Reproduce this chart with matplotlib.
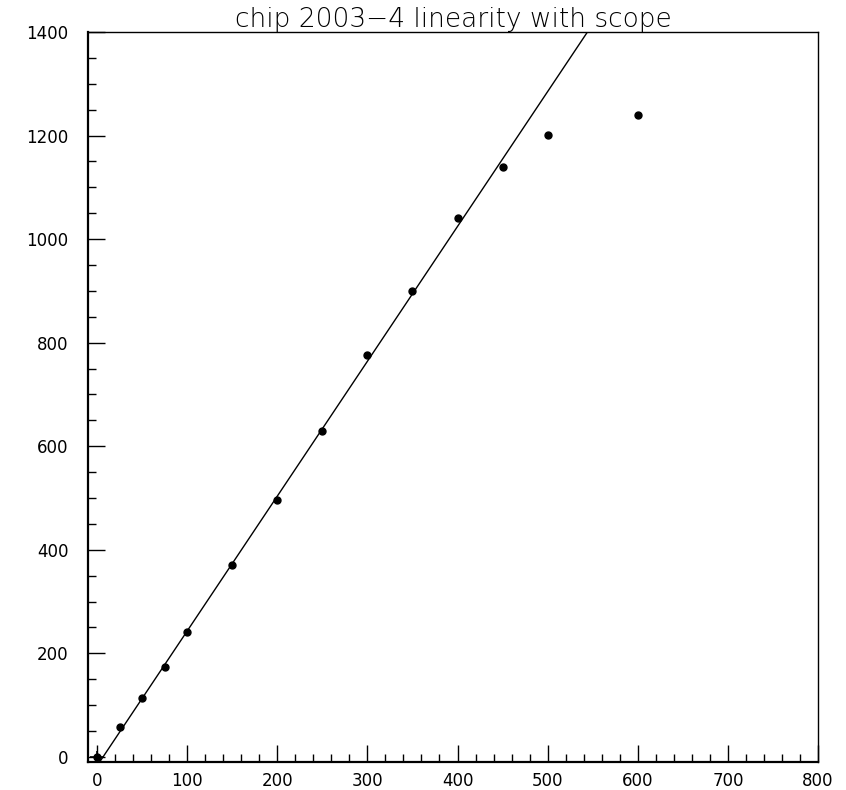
import matplotlib
matplotlib.use("Agg")
import matplotlib.pyplot as plt
import numpy as np
from matplotlib.ticker import MultipleLocator

# Data
x_vals = [0, 25, 50, 75, 100, 150, 200, 250, 300, 350, 400, 450, 500, 600]
y_vals = [0, 58, 114, 173, 241, 370, 496, 629, 776, 899, 1040, 1140, 1201, 1240]
x_err = [8, 0, 0, 0, 0, 0, 0, 0, 0, 0, 0, 0, 0, 0]
y_err = [12, 0, 0, 0, 0, 0, 0, 0, 0, 0, 0, 0, 0, 0]
fit_slope = 2.605
fit_intercept = -17.6
title = "chip 2003\u22124 linearity with scope"

fig = plt.figure(figsize=(8.46, 7.90), dpi=100)
ax = fig.add_axes([88/846, 1 - 762/790, (818-88)/846, (762-32)/790])

xmin, xmax = -10, 800
ymin, ymax = -10, 1400

xl = np.array([xmin, xmax])
ax.plot(xl, fit_slope * xl + fit_intercept, color="black", lw=1.0)
ax.errorbar(x_vals, y_vals, xerr=x_err, yerr=y_err, fmt="o", color="black",
            ms=5, elinewidth=1.2, capsize=0)

ax.set_xlim(xmin, xmax)
ax.set_ylim(ymin, ymax)
ax.xaxis.set_major_locator(MultipleLocator(100))
ax.xaxis.set_minor_locator(MultipleLocator(20))
ax.yaxis.set_major_locator(MultipleLocator(200))
ax.yaxis.set_minor_locator(MultipleLocator(50))
ax.tick_params(which="major", direction="in", length=12, width=1.0,
               labelsize=12, labelcolor="black", top=False, right=False)
ax.tick_params(axis="x", which="major", pad=7)
ax.tick_params(axis="y", which="major", pad=14)
ax.tick_params(which="minor", direction="in", length=6, width=1.0,
               top=False, right=False)
for s in ax.spines.values():
    s.set_linewidth(1.0)
for s in ["left", "bottom"]:
    ax.spines[s].set_linewidth(1.6)

fig.text(453/846, 1 - 27/790, title, ha="center", va="baseline", fontsize=19,
         fontweight="light", color="black")

fig.savefig("out.png", dpi=100)
